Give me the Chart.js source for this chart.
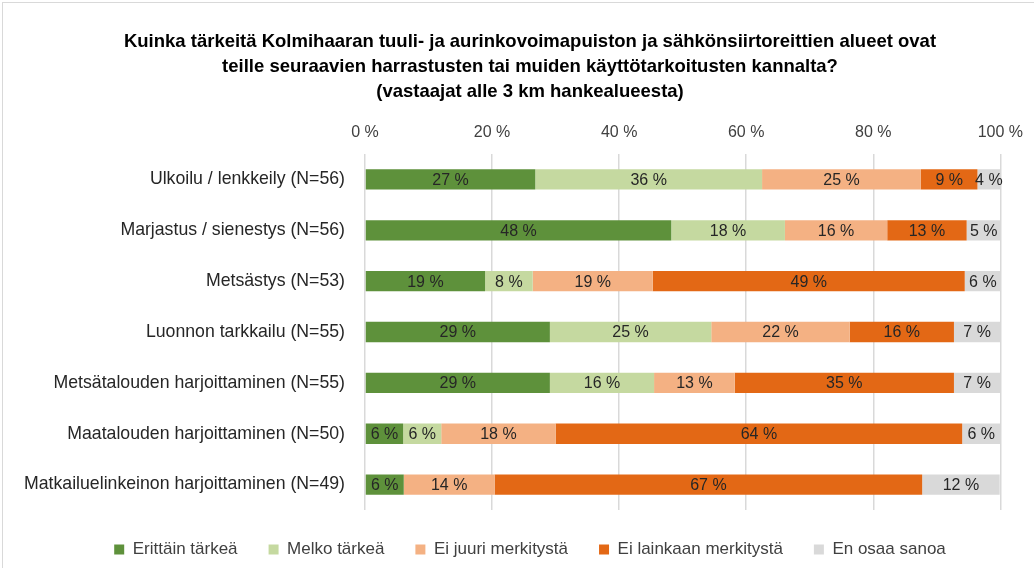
<!DOCTYPE html>
<html lang="fi">
<head>
    <meta charset="UTF-8">
    <title>Kolmihaara - käyttötarkoitukset</title>
    <style>
        html, body {
            margin: 0;
            padding: 0;
            background: #fff;
        }
        #wrap {
            position: relative;
            width: 1034px;
            height: 568px;
            box-sizing: border-box;
            border: 1px solid #d9d9d9;
            border-right: none;
            border-bottom: none;
            margin: 2px 0 0 2px;
        }
    </style>
    <script src="https://cdn.jsdelivr.net/npm/chart.js"></script>
</head>
<body>
<div id="wrap">
    <canvas id="chart" width="1032" height="566"></canvas>
</div>
<script>
    // categories (top to bottom)
    const categories = [
        'Ulkoilu / lenkkeily (N=56)',
        'Marjastus / sienestys (N=56)',
        'Metsästys (N=53)',
        'Luonnon tarkkailu (N=55)',
        'Metsätalouden harjoittaminen (N=55)',
        'Maatalouden harjoittaminen (N=50)',
        'Matkailuelinkeinon harjoittaminen (N=49)'
    ];

    // shares in percent, one array per answer
    const erittainTarkea   = [26.8, 48.2, 18.9, 29.1, 29.1, 6.0, 6.1];
    const melkoTarkea      = [35.7, 17.9, 7.5, 25.4, 16.4, 6.0, 0];
    const eiJuuri          = [25.0, 16.1, 18.9, 21.8, 12.7, 18.0, 14.3];
    const eiLainkaan       = [8.9, 12.5, 49.1, 16.4, 34.5, 64.0, 67.3];
    const enOsaa           = [3.6, 5.4, 5.7, 7.3, 7.3, 6.0, 12.2];

    const seriesNames = ['Erittäin tärkeä', 'Melko tärkeä', 'Ei juuri merkitystä', 'Ei lainkaan merkitystä', 'En osaa sanoa'];
    const seriesColors = ['#5e913b', '#c5d9a0', '#f4b183', '#e36815', '#d9d9d9'];
    const tickValues = [0, 20, 40, 60, 80, 100];

    const FONT = "'Liberation Sans', Arial, sans-serif";

    // draws the rounded percentage in the middle of each bar piece
    const barLabels = {
        id: 'barLabels',
        afterDatasetsDraw(chart) {
            const ctx = chart.ctx;
            ctx.save();
            ctx.font = '16px ' + FONT;
            ctx.fillStyle = '#262626';
            ctx.textAlign = 'center';
            ctx.textBaseline = 'middle';
            chart.data.datasets.forEach((ds, i) => {
                const meta = chart.getDatasetMeta(i);
                meta.data.forEach((bar, j) => {
                    const v = ds.data[j];
                    if (!v) return;
                    const x = (bar.x + bar.base) / 2;
                    ctx.fillText(Math.round(v) + ' %', x, bar.y + 1);
                });
            });
            ctx.restore();
        }
    };

    const data = {
        labels: categories,
        datasets: [erittainTarkea, melkoTarkea, eiJuuri, eiLainkaan, enOsaa].map((vals, i) => ({
            label: seriesNames[i],
            data: vals,
            backgroundColor: seriesColors[i],
            borderWidth: 0,
            barPercentage: 0.4,
            categoryPercentage: 1
        }))
    };

    new Chart(document.getElementById('chart'), {
        type: 'bar',
        data: data,
        plugins: [barLabels],
        options: {
            indexAxis: 'y',
            responsive: false,
            animation: false,
            // wider left padding moves title + legend a bit right like in the original
            layout: { padding: { left: 55, right: 33, top: 27, bottom: 1 } },
            scales: {
                x: {
                    position: 'top',
                    stacked: true,
                    min: 0,
                    max: 100,
                    afterBuildTicks: (s) => { s.ticks = tickValues.map(v => ({ value: v })); },
                    grid: { color: '#d9d9d9', lineWidth: 1.5, drawTicks: false },
                    border: { display: false },
                    ticks: {
                        padding: 12,
                        color: '#404040',
                        font: { family: FONT, size: 16 },
                        callback: (v) => v + ' %'
                    }
                },
                y: {
                    stacked: true,
                    grid: { display: false },
                    border: { display: false },
                    afterFit: (s) => { s.width = 307; },
                    // long category names reach past the padding, so don't clip them
                    afterUpdate: (s) => { s._computeLabelArea = () => undefined; },
                    ticks: {
                        padding: 12,
                        color: '#262626',
                        font: { family: FONT, size: 17.7 }
                    }
                }
            },
            plugins: {
                title: {
                    display: true,
                    text: [
                        'Kuinka tärkeitä Kolmihaaran tuuli- ja aurinkovoimapuiston ja sähkönsiirtoreittien alueet ovat',
                        'teille seuraavien harrastusten tai muiden käyttötarkoitusten kannalta?',
                        '(vastaajat alle 3 km hankealueesta)'
                    ],
                    color: '#000',
                    font: { family: FONT, size: 18.5, weight: 'bold', lineHeight: 1.33 },
                    padding: { top: 0, bottom: 7 }
                },
                legend: {
                    position: 'bottom',
                    labels: {
                        boxWidth: 10,
                        boxHeight: 10,
                        padding: 31,
                        color: '#404040',
                        font: { family: FONT, size: 17 }
                    }
                },
                tooltip: { enabled: false }
            }
        }
    });
</script>
</body>
</html>
